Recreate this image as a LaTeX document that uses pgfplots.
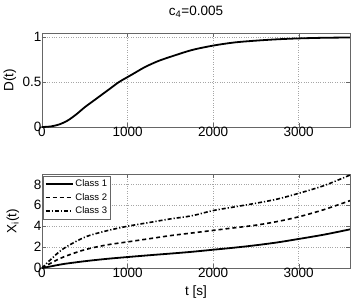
\documentclass[border=0pt]{standalone}
\usepackage{fontspec}
\setmainfont{Liberation Sans}
\usepackage{pgfplots}
\pgfplotsset{compat=1.18}
\begin{document}
\begin{tikzpicture}[x=1pt,y=1pt]
\pgfplotsset{
  every axis title shift=0pt,
  every axis/.append style={
    scale only axis, width=308pt, height=94pt,
    xmin=0, xmax=3600, xtick={0,1000,2000,3000},
    tick align=inside, axis line style={gray!80!black, line width=0.5pt},
    grid=major, major grid style={dotted, gray!70},
    tick style={gray!80!black},
    /pgf/number format/assume math mode=true,
    /pgf/number format/1000 sep={},
    tick label style={font=\fontsize{13.5}{15}\selectfont},
    label style={font=\fontsize{13.5}{15}\selectfont},
    xticklabel style={yshift=3pt},
    yticklabel style={xshift=3pt},
    clip=true,
  }
}
\begin{axis}[at={(0pt,141pt)}, anchor=south west,
  ymin=0, ymax=1.045, ytick={0,0.5,1},
  yticklabels={0,0.5,1},
  ylabel={D(t)}, ylabel style={at={([xshift=-32pt]axis description cs:0,0.5)}, anchor=center},
  title={c\textsubscript{4}=0.005}, title style={font=\fontsize{13.5}{15}\selectfont, at={([yshift=21pt]axis description cs:0.5,1)}, anchor=center}]
\addplot[black, line width=1.8pt, smooth] coordinates {
(0,0) (100,0.006) (200,0.028) (300,0.072) (400,0.14) (500,0.22) (600,0.29) (700,0.36) (800,0.43) (900,0.50) (1000,0.555) (1100,0.61) (1200,0.665) (1350,0.73) (1500,0.78) (1750,0.855) (2000,0.905) (2250,0.94) (2500,0.96) (2750,0.975) (3000,0.985) (3300,0.992) (3600,0.995)
};
\end{axis}
\begin{axis}[at={(0pt,0pt)}, anchor=south west,
  ymin=0, ymax=9, ytick={0,2,4,6,8},
  ylabel={X\textsubscript{i}(t)}, ylabel style={at={([xshift=-29pt]axis description cs:0,0.5)}, anchor=center},
  xlabel={t [s]}, xlabel style={at={([yshift=-24pt]axis description cs:0.5,0)}, anchor=center},
  legend style={at={(0.003,0.975)}, anchor=north west, draw=gray!80!black, line width=0.5pt,
    font=\fontsize{9.5}{11}\selectfont, inner sep=1.5pt, row sep=1pt, fill=white,
    /tikz/every even column/.append style={column sep=0pt}},
  legend cell align=left,
  legend image code/.code={\draw[#1] (0pt,0pt) -- (27pt,0pt);}]
\addplot[black, line width=1.8pt, smooth] coordinates {
(0,0) (100,0.15) (250,0.38) (500,0.65) (750,0.87) (1000,1.05) (1250,1.22) (1500,1.38) (1750,1.55) (2000,1.75) (2250,1.95) (2500,2.18) (2750,2.45) (3000,2.78) (3300,3.2) (3600,3.7)
};
\addlegendentry{Class 1}
\addplot[black, line width=1.6pt, dash pattern=on 4pt off 3pt, smooth] coordinates {
(0,0) (100,0.45) (250,1.05) (500,1.75) (750,2.2) (1000,2.5) (1250,2.8) (1500,3.1) (1750,3.35) (2000,3.6) (2250,3.85) (2500,4.1) (2750,4.45) (3000,4.9) (3300,5.6) (3600,6.45)
};
\addlegendentry{Class 2}
\addplot[black, line width=1.6pt, dash pattern=on 4pt off 2pt on 1.2pt off 2pt, smooth] coordinates {
(0,0) (100,0.8) (250,1.85) (500,2.95) (750,3.55) (1000,4.0) (1250,4.35) (1500,4.7) (1750,5.0) (2000,5.5) (2250,5.85) (2500,6.2) (2750,6.6) (3000,7.15) (3300,7.9) (3600,8.9)
};
\addlegendentry{Class 3}
\end{axis}
\pgfresetboundingbox
\useasboundingbox (-42pt,-33pt) rectangle (312pt,268pt);
\end{tikzpicture}
\end{document}
